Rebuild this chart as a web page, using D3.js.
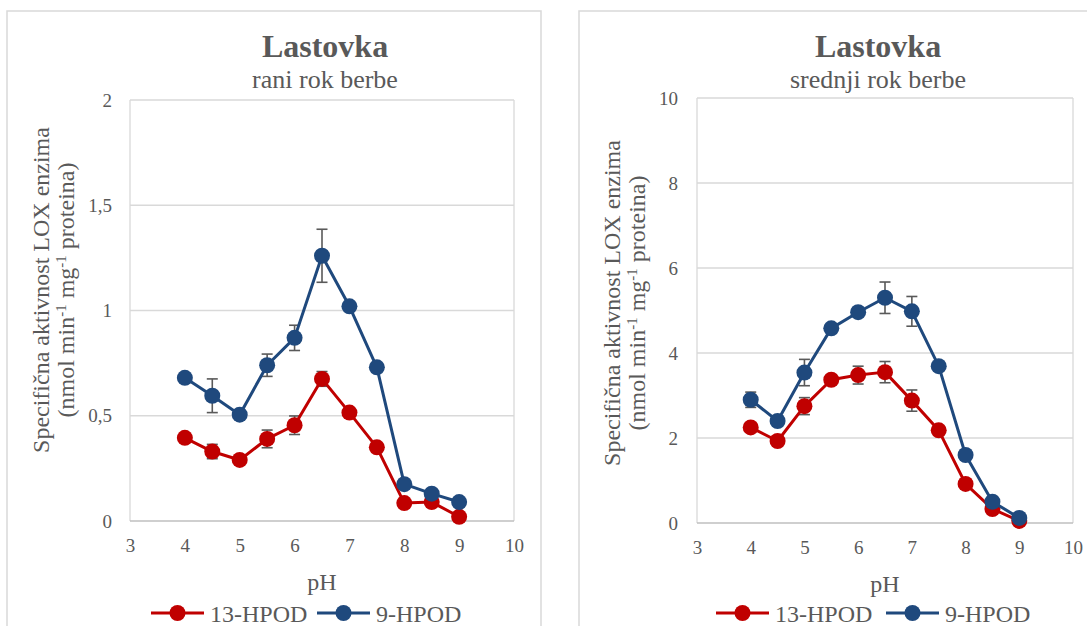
<!DOCTYPE html>
<html>
<head>
<meta charset="utf-8">
<script src="https://cdn.jsdelivr.net/npm/d3@7"></script>
<style>
  html, body { margin: 0; padding: 0; background: #fff; }
  svg { display: block; }
  text { font-family: "Liberation Serif", "Times New Roman", serif; fill: #595959; }
</style>
</head>
<body>
<svg id="chart" width="1087" height="626" font-family="Liberation Serif, Times New Roman, serif"></svg>
<script>
// ---- data ----
const pH = [4, 4.5, 5, 5.5, 6, 6.5, 7, 7.5, 8, 8.5, 9];
const xTicks = [3, 4, 5, 6, 7, 8, 9, 10];
const seriesNames = ["13-HPOD", "9-HPOD"];
const seriesColors = ["#c00000", "#1f497d"];

const title = "Lastovka";
const subtitles = ["rani rok berbe", "srednji rok berbe"];
const yTitleLine1 = "Specifična aktivnost LOX enzima";
const xTitle = "pH";

// panel 1: rani rok berbe
const rani13 = [0.395, 0.33, 0.29, 0.39, 0.455, 0.675, 0.515, 0.35, 0.085, 0.09, 0.02];
const rani13Err = [0, 0.034, 0, 0.042, 0.044, 0.035, 0, 0, 0, 0, 0];
const rani9 = [0.68, 0.595, 0.505, 0.74, 0.87, 1.26, 1.02, 0.73, 0.175, 0.13, 0.09];
const rani9Err = [0, 0.08, 0, 0.053, 0.06, 0.126, 0, 0, 0, 0, 0];
const raniYTicks = [0, 0.5, 1, 1.5, 2];

// panel 2: srednji rok berbe
const srednji13 = [2.25, 1.93, 2.75, 3.37, 3.48, 3.55, 2.88, 2.18, 0.92, 0.33, 0.05];
const srednji13Err = [0, 0, 0.2, 0, 0.21, 0.25, 0.25, 0, 0, 0, 0];
const srednji9 = [2.9, 2.4, 3.54, 4.58, 4.96, 5.3, 4.98, 3.69, 1.6, 0.5, 0.12];
const srednji9Err = [0.18, 0, 0.31, 0, 0, 0.37, 0.35, 0, 0, 0, 0];
const srednjiYTicks = [0, 2, 4, 6, 8, 10];

const FONT = '"Liberation Serif", "Times New Roman", serif';
const svg = d3.select("#chart");
const fmt = v => String(v).replace(".", ",");

function panel(cfg) {
  const g = svg.append("g");
  // chart area border
  g.append("rect")
    .attr("x", cfg.box[0]).attr("y", cfg.box[1])
    .attr("width", cfg.box[2]).attr("height", cfg.box[3])
    .attr("fill", "#fff").attr("stroke", "#d9d9d9").attr("stroke-width", 1.5);

  const x = d3.scaleLinear().domain([3, 10]).range([cfg.plot[0], cfg.plot[1]]);
  const y = d3.scaleLinear().domain([0, cfg.yMax]).range([cfg.plot[3], cfg.plot[2]]);

  // gridlines
  g.append("g").selectAll("line").data(cfg.yTicks.filter(t => t > 0)).join("line")
    .attr("x1", x(3)).attr("x2", x(10))
    .attr("y1", d => y(d)).attr("y2", d => y(d))
    .attr("stroke", "#d9d9d9").attr("stroke-width", 1.3);
  // plot area side borders
  [3, 10].forEach(v => {
    g.append("line").attr("x1", x(v)).attr("x2", x(v))
      .attr("y1", y(cfg.yMax)).attr("y2", y(0))
      .attr("stroke", "#d9d9d9").attr("stroke-width", 1.3);
  });
  // x axis line
  g.append("line").attr("x1", x(3)).attr("x2", x(10))
    .attr("y1", y(0)).attr("y2", y(0))
    .attr("stroke", "#bfbfbf").attr("stroke-width", 1.5);

  // y tick labels
  const yAxis = d3.axisLeft(y).tickValues(cfg.yTicks).tickFormat(fmt).tickSize(0).tickPadding(cfg.yPad);
  const ya = g.append("g").attr("transform", `translate(${x(3)},0)`).call(yAxis)
    .attr("font-family", FONT).attr("font-size", 19);
  ya.select(".domain").remove();
  ya.selectAll("text").attr("fill", "#595959").style("font-family", FONT).style("font-size", "19px");

  // x tick labels
  const xAxis = d3.axisBottom(x).tickValues(xTicks).tickFormat(d3.format("d")).tickSize(0).tickPadding(18);
  const xa = g.append("g").attr("transform", `translate(0,${y(0)})`).call(xAxis)
    .attr("font-family", FONT).attr("font-size", 19);
  xa.select(".domain").remove();
  xa.selectAll("text").attr("fill", "#595959").style("font-family", FONT).style("font-size", "19px");

  // titles
  g.append("text").attr("x", cfg.titleX).attr("y", 57).attr("text-anchor", "middle")
    .attr("font-size", 32).attr("font-weight", "bold").text(title);
  g.append("text").attr("x", cfg.titleX).attr("y", 88).attr("text-anchor", "middle")
    .attr("font-size", 26).text(cfg.subtitle);

  // x title
  g.append("text").attr("x", (x(3) + x(10)) / 2).attr("y", y(0) + 69).attr("text-anchor", "middle")
    .attr("font-size", 24).text(xTitle);

  // y title (two lines)
  g.append("text").attr("transform", `translate(${cfg.yTitleX},${cfg.yTitleY}) rotate(-90)`)
    .attr("text-anchor", "middle").attr("font-size", 24).text(yTitleLine1);
  const t2 = g.append("text").attr("transform", `translate(${cfg.yTitleX + 25},${cfg.yTitleY}) rotate(-90)`)
    .attr("text-anchor", "middle").attr("font-size", 24);
  t2.append("tspan").text("(nmol min");
  t2.append("tspan").attr("font-size", 15).attr("dy", -8).text("-1");
  t2.append("tspan").attr("dy", 8).text(" mg");
  t2.append("tspan").attr("font-size", 15).attr("dy", -8).text("-1");
  t2.append("tspan").attr("dy", 8).text("  proteina)");

  const line = d3.line().x((d, i) => x(pH[i])).y(d => y(d));

  cfg.series.forEach((s, si) => {
    const color = seriesColors[si];
    const sg = g.append("g");
    // error bars
    const eb = sg.append("g").attr("stroke", "#595959").attr("stroke-width", 1.6);
    s.values.forEach((v, i) => {
      const e = s.err[i];
      if (!e) return;
      const cx = x(pH[i]);
      eb.append("line").attr("x1", cx).attr("x2", cx).attr("y1", y(v - e)).attr("y2", y(v + e));
      eb.append("line").attr("x1", cx - 5.5).attr("x2", cx + 5.5).attr("y1", y(v - e)).attr("y2", y(v - e));
      eb.append("line").attr("x1", cx - 5.5).attr("x2", cx + 5.5).attr("y1", y(v + e)).attr("y2", y(v + e));
    });
    sg.append("path").datum(s.values).attr("d", line)
      .attr("fill", "none").attr("stroke", color).attr("stroke-width", 3).attr("stroke-linejoin", "round");
    sg.selectAll("circle").data(s.values).join("circle")
      .attr("cx", (d, i) => x(pH[i])).attr("cy", d => y(d)).attr("r", 8).attr("fill", color);
  });

  // legend
  const lg = g.append("g");
  cfg.legend.forEach((lx, si) => {
    const ly = 613;
    lg.append("line").attr("x1", lx).attr("x2", lx + 53).attr("y1", ly).attr("y2", ly)
      .attr("stroke", seriesColors[si]).attr("stroke-width", 3);
    lg.append("circle").attr("cx", lx + 26.5).attr("cy", ly).attr("r", 8).attr("fill", seriesColors[si]);
    lg.append("text").attr("x", lx + 59).attr("y", 622).attr("font-size", 24).text(seriesNames[si]);
  });
}

panel({
  box: [7, 11, 534, 640],
  plot: [130, 514, 100, 521],
  yMax: 2, yTicks: raniYTicks, yPad: 18,
  titleX: 325, subtitle: subtitles[0],
  yTitleX: 49, yTitleY: 290,
  legend: [151, 317],
  series: [{ values: rani13, err: rani13Err }, { values: rani9, err: rani9Err }]
});

panel({
  box: [579, 11, 540, 640],
  plot: [697, 1073, 98, 523],
  yMax: 10, yTicks: srednjiYTicks, yPad: 19,
  titleX: 878, subtitle: subtitles[1],
  yTitleX: 620, yTitleY: 303,
  legend: [716, 886],
  series: [{ values: srednji13, err: srednji13Err }, { values: srednji9, err: srednji9Err }]
});
</script>
</body>
</html>
